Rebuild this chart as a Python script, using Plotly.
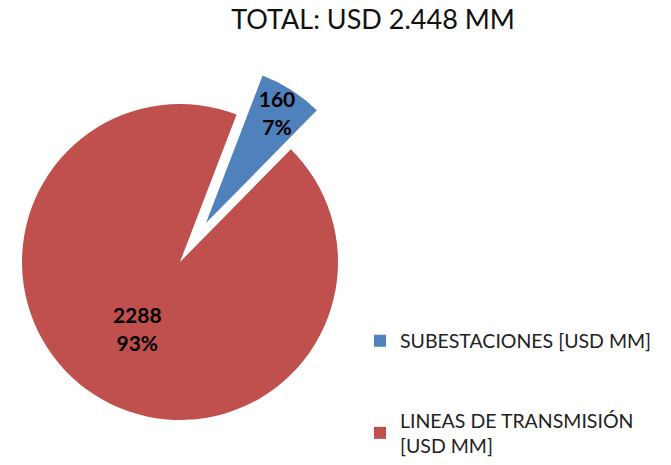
import plotly.graph_objects as go

labels = ["SUBESTACIONES [USD MM]", "LINEAS DE TRANSMISIÓN<br>[USD MM]"]
values = [160, 2288]
colors = ["#4F81BD", "#C0504D"]
title_text = "TOTAL: USD 2.448 MM"

W, H = 671, 465
FONT = "Lato"
label_tpl = "<b>%{value}<br>%{percent:.0%}</b>"

fig = go.Figure()

# legend-only helper pies (tiny, hidden beneath the main pie)
for i, leg in enumerate(["legend", "legend2"]):
    fig.add_trace(go.Pie(
        labels=[labels[i]], values=[values[i]],
        marker=dict(colors=[colors[i]], line=dict(width=0)),
        textinfo="none", hoverinfo="skip", sort=False,
        domain=dict(x=[0.14, 0.145], y=[0.45, 0.455]),
        legend=leg, showlegend=True,
    ))

# main (red) slice, un-pulled
fig.add_trace(go.Pie(
    labels=labels, values=values,
    marker=dict(colors=["rgba(0,0,0,0)", colors[1]], line=dict(width=0)),
    texttemplate=["", label_tpl], textposition="inside",
    insidetextorientation="horizontal",
    insidetextfont=dict(family=FONT, size=21, color="black"),
    sort=False, direction="clockwise", rotation=21,
    domain=dict(x=[22 / W, 338 / W], y=[1 - 420 / H, 1 - 104 / H]),
    showlegend=False, hoverinfo="label+value+percent",
))

# exploded (blue) slice
fig.add_trace(go.Pie(
    labels=labels, values=values,
    marker=dict(colors=[colors[0], "rgba(0,0,0,0)"], line=dict(width=0)),
    texttemplate=[label_tpl, ""], textposition="inside",
    insidetextorientation="horizontal",
    insidetextfont=dict(family=FONT, size=21, color="black"),
    sort=False, direction="clockwise", rotation=21,
    domain=dict(x=[48 / W, 364 / W], y=[1 - 381 / H, 1 - 65 / H]),
    showlegend=False, hoverinfo="label+value+percent",
))

legend_common = dict(
    font=dict(family=FONT, size=19.5, color="#222222"),
    bgcolor="rgba(0,0,0,0)", xanchor="left",
)

fig.update_layout(
    width=W, height=H,
    margin=dict(l=0, r=0, t=0, b=0),
    paper_bgcolor="white", plot_bgcolor="white",
    uniformtext=dict(mode="show", minsize=21),
    title=dict(text=title_text, x=373 / W, xanchor="center", y=1 - 20 / H,
               yanchor="middle", font=dict(family=FONT, size=27, color="#111111")),
    legend=dict(x=360 / W, y=1 - 341 / H, yanchor="middle", **legend_common),
    legend2=dict(x=360 / W, y=0, yanchor="bottom", **legend_common),
)

fig.write_html("out.html", config={"displayModeBar": False},
               post_script="document.body.style.margin='0';")
